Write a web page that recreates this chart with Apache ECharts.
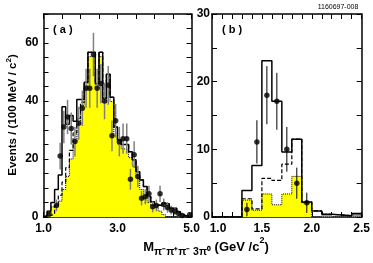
<!DOCTYPE html>
<html><head><meta charset="utf-8">
<script src="https://cdn.jsdelivr.net/npm/echarts@6/dist/echarts.min.js"></script>
<style>html,body{margin:0;padding:0;background:#fff}#c{width:373px;height:263px}</style>
</head><body><div id="c"></div>
<script>
// ---------- Panel (a): 100 MeV bins from 1.0 to 5.0 GeV ----------
const binStartA = 1.0, binWidthA = 0.1;
const totalA  = [0.5, 2, 5, 9.5, 14.5, 38, 32, 35, 33, 40.5, 40.5, 46.5, 56.8, 56.8, 46, 56.8, 41, 49.2, 41.3, 31, 26.6, 25, 25, 22.5, 19.7, 15.6, 12.8, 10.5, 7, 5.3, 4.1, 4, 4.7, 4.5, 3, 3, 1.8, 0.7, 0.3, 0.3];
const dashedA = [0, 0.5, 1, 4, 7.5, 12, 17, 23, 29, 34, 39.5, 46.5, 56.8, 56.8, 46, 56.8, 41, 49.2, 41.3, 31, 26.6, 25, 25, 22.5, 19.7, 15.6, 12.8, 10.5, 7, 5.3, 4.1, 4, 4.7, 4.5, 3, 3, 1.8, 0.7, 0.3, 0.3];
const yellowA = [0, 2, 3.5, 4, 5.5, 9.5, 14, 20, 26, 32, 38.5, 45, 55.3, 55.3, 44.5, 55.3, 39.5, 47.7, 39.8, 28, 25, 23.5, 23.5, 20.5, 17.5, 13.5, 9.5, 6.5, 5, 4, 3.5, 2, 0.8, 0, 0, 0, 0, 0, 0, 0];
const dataA   = [null, 1, null, 4, 21, 31, 34.5, 30.5, 26, 32.3, 37.5, 44.4, 44.4, 56, 44.4, 46, 40, 45.4, 28, 33.2, 26, 27, 27, 13, 21.5, 14, 6.5, 7, 8, 3.5, 4, 8, 4.3, 3.3, 2.4, 2, 1.2, 0.5, null, 0.8];
const errA    = [null, 1, null, 2, 4.6, 5.6, 5.9, 5.5, 5.1, 5.7, 6.1, 6.7, 6.7, 7.5, 6.7, 6.8, 6.3, 6.7, 5.3, 5.8, 5.1, 5.2, 5.2, 3.6, 4.6, 3.7, 2.5, 2.6, 2.8, 1.9, 2, 2.8, 2.1, 1.8, 1.5, 1.4, 1.1, 0.7, null, 0.9];

// ---------- Panel (b): 100 MeV bins from 1.0 to 2.5 GeV ----------
const binStartB = 1.0, binWidthB = 0.1;
const totalB  = [0, 0, 0, 3.9, 7.6, 23.1, 17.1, 9.6, 11.5, 2.2, 0.9, 0.4, 0.3, 0.2, 0.5];
const dashedB = [0, 0, 0, 2.7, 1.2, 5.7, 5.4, 7.8, 11.5, 2.2, 0.9, 0.4, 0.3, 0.2, 0.5];
const yellowB = [0, 0, 0, 2.5, 1.0, 3.4, 1.8, 3.4, 6.0, 2.1, 0, 0, 0, 0, 0];
const greyB   = [0, 0, 0, 0, 0, 0, 0, 0, 0, 0, 0, 0.4, 0, 0, 0.5];
const dataB   = [null, null, null, 1.1, 11.1, 18.0, 17.1, 10.0, 5.0, 2.1, null, null, null, null, null];
const errB    = [null, null, null, 1.0, 3.2, 4.3, 4.2, 3.3, 2.3, 1.5, null, null, null, null, null];

// ---------- Axis ticks / labels ----------
const xTicksA  = [1, 1.5, 2, 2.5, 3, 3.5, 4, 4.5, 5];
const xLabelsA = [1, 3, 5];
const yTicksA  = [0, 5, 10, 15, 20, 25, 30, 35, 40, 45, 50, 55, 60, 65, 70];
const yLabelsA = [0, 20, 40, 60];
const xTicksB  = [1, 1.1, 1.2, 1.3, 1.4, 1.5, 1.6, 1.7, 1.8, 1.9, 2, 2.1, 2.2, 2.3, 2.4, 2.5];
const xLabelsB = [1, 1.5, 2, 2.5];
const yTicksB  = [0, 5, 10, 15, 20, 25, 30];
const yLabelsB = [0, 10, 20, 30];

const FONT = 'Liberation Sans, Arial, Helvetica, sans-serif';

function stepPoints(vals, start, width) {
  const pts = [[start, 0]];
  vals.forEach((v, i) => pts.push([+(start + width * i).toFixed(3), v]));
  const end = +(start + width * vals.length).toFixed(3);
  pts.push([end, vals[vals.length - 1]]);
  pts.push([end, 0]);
  return pts;
}
function points(vals, errs, start, width) {
  const out = [];
  vals.forEach((v, i) => { if (v !== null) out.push([+(start + width * (i + 0.5)).toFixed(3), v, errs[i]]); });
  return out;
}
function axis(gridIndex, position, min, max, ticks, labels, margin, isX, shiftMin) {
  const lab = labels ? {
    show: true, customValues: labels, margin, color: '#000', fontSize: 12, fontWeight: 'bold', fontFamily: FONT,
    formatter: function (v) {
      const n = (typeof v === 'object' && v !== null) ? Number(v.value) : Number(v);
      const t = isX ? n.toFixed(1) : String(n);
      return (shiftMin && Math.abs(n - min) < 1e-9) ? '\u2002\u2002' + t : t;
    }
  } : { show: false };
  return {
    type: 'value', gridIndex, position, min, max,
    axisLine: { show: true, onZero: false, lineStyle: { color: '#000', width: 1.5 } },
    axisTick: { show: true, inside: true, length: 5, customValues: ticks, lineStyle: { color: '#000', width: 1 } },
    axisLabel: lab,
    splitLine: { show: false }
  };
}
function histLine(vals, start, width, xi, yi, type, lw, z, area, lineColor) {
  const s = {
    type: 'line', xAxisIndex: xi, yAxisIndex: yi, step: 'end', symbol: 'none', showSymbol: false,
    data: stepPoints(vals, start, width), z, silent: true,
    lineStyle: { color: lineColor || '#000', width: lw, type }
  };
  if (area) s.areaStyle = { color: area, opacity: 1 };
  return s;
}
function errSeries(pts, xi, yi, color, lw) {
  return {
    type: 'custom', xAxisIndex: xi, yAxisIndex: yi, z: 8, silent: true,
    data: pts,
    renderItem: (params, api) => {
      const x = api.value(0), y = api.value(1), e = api.value(2);
      const p1 = api.coord([x, Math.max(0, y - e)]);
      const p2 = api.coord([x, y + e]);
      return { type: 'line', shape: { x1: p1[0], y1: p1[1], x2: p2[0], y2: p2[1] }, style: { stroke: color, lineWidth: lw } };
    }
  };
}

const ptsA = points(dataA, errA, binStartA, binWidthA);
const ptsB = points(dataB, errB, binStartB, binWidthB);

const option = {
  animation: false,
  backgroundColor: '#fff',
  grid: [
    { left: 43.5, top: 14, width: 148, height: 203 },
    { left: 212, top: 14, width: 150, height: 203 }
  ],
  xAxis: [
    axis(0, 'bottom', 1, 5, xTicksA, xLabelsA, 6, true),
    axis(0, 'top', 1, 5, xTicksA, null, 0, true),
    axis(1, 'bottom', 1, 2.5, xTicksB, xLabelsB, 6, true, true),
    axis(1, 'top', 1, 2.5, xTicksB, null, 0, true)
  ],
  yAxis: [
    axis(0, 'left', 0, 70, yTicksA, yLabelsA, 5, false),
    axis(0, 'right', 0, 70, yTicksA, null, 0, false),
    axis(1, 'left', 0, 30, yTicksB, yLabelsB, 2, false),
    axis(1, 'right', 0, 30, yTicksB, null, 0, false)
  ],
  series: [
    histLine(yellowA, binStartA, binWidthA, 0, 0, 'dotted', 1, 2, '#ffff00'),
    histLine(dashedA, binStartA, binWidthA, 0, 0, [4, 2], 1.2, 3),
    histLine(totalA, binStartA, binWidthA, 0, 0, 'solid', 1.5, 4),
    errSeries(ptsA, 0, 0, '#808080', 1.5),
    { type: 'scatter', xAxisIndex: 0, yAxisIndex: 0, data: ptsA.map(p => [p[0], p[1]]), symbolSize: 5.5, itemStyle: { color: '#000' }, z: 9, silent: true },

    histLine(greyB, binStartB, binWidthB, 2, 2, 'solid', 0.5, 1, '#9a9a9a', '#9a9a9a'),
    histLine(yellowB, binStartB, binWidthB, 2, 2, 'dotted', 1, 2, '#ffff00'),
    histLine(dashedB, binStartB, binWidthB, 2, 2, [4, 2], 1.2, 3),
    histLine(totalB, binStartB, binWidthB, 2, 2, 'solid', 1.5, 4),
    errSeries(ptsB, 2, 2, '#000', 1),
    { type: 'scatter', xAxisIndex: 2, yAxisIndex: 2, data: ptsB.map(p => [p[0], p[1]]), symbolSize: 5.5, itemStyle: { color: '#000' }, z: 9, silent: true }
  ],
  graphic: [
    { type: 'text', x: 53, y: 24, style: { text: '( a )', fill: '#000', font: 'bold 11px ' + FONT } },
    { type: 'text', x: 222, y: 24, style: { text: '( b )', fill: '#000', font: 'bold 11px ' + FONT } },
    { type: 'text', x: 338, y: 7, style: { text: '1160697-008', fill: '#000', font: '7px ' + FONT, align: 'center', verticalAlign: 'middle' } },
    { type: 'text', x: 13, y: 115, rotation: Math.PI / 2,
      style: { text: '{n|Events / (100 MeV / c}{p|2}{n|)}', align: 'center', verticalAlign: 'middle',
        rich: {
          n: { fontSize: 11.5, fontWeight: 'bold', fontFamily: FONT, fill: '#000', lineHeight: 16 },
          p: { fontSize: 8, fontWeight: 'bold', fontFamily: FONT, fill: '#000', verticalAlign: 'top', lineHeight: 16 }
        } } },
    { type: 'text', x: 206, y: 247,
      style: { text: '{m|M}{s|π⁻π⁺π⁻ 3π⁰}{n| (GeV /c}{p|2}{n|)}', align: 'center', verticalAlign: 'middle',
        rich: {
          m: { fontSize: 13, fontWeight: 'bold', fontFamily: FONT, fill: '#000', lineHeight: 22, verticalAlign: 'middle' },
          s: { fontSize: 10.5, fontWeight: 'bold', fontFamily: FONT, fill: '#000', lineHeight: 22, verticalAlign: 'bottom' },
          n: { fontSize: 13, fontWeight: 'bold', fontFamily: FONT, fill: '#000', lineHeight: 22, verticalAlign: 'middle' },
          p: { fontSize: 9, fontWeight: 'bold', fontFamily: FONT, fill: '#000', lineHeight: 22, verticalAlign: 'top' }
        } } }
  ]
};

const chart = echarts.init(document.getElementById('c'), null, { renderer: 'canvas', width: 373, height: 263 });
chart.setOption(option);
</script>
</body></html>
